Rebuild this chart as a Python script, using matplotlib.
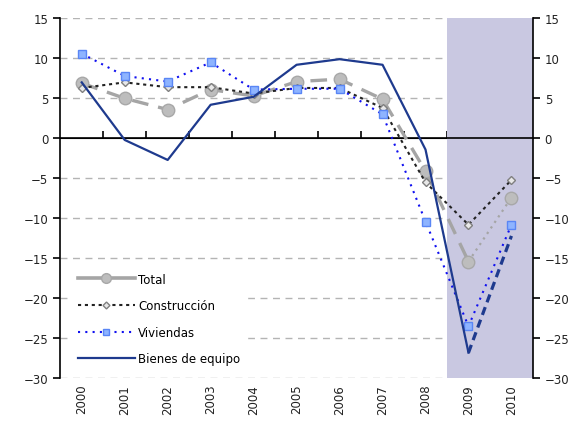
import matplotlib.pyplot as plt
from matplotlib.lines import Line2D

years = ['2000', '2001', '2002', '2003', '2004', '2005', '2006', '2007', '2008', '2009', '2010']
total = [6.9, 5.0, 3.6, 6.1, 5.3, 7.1, 7.4, 4.9, -4.1, -15.4, -7.4]
construccion = [6.3, 7.0, 6.4, 6.4, 5.6, 6.3, 6.3, 3.8, -5.5, -10.8, -5.2]
viviendas = [10.6, 7.8, 7.1, 9.5, 6.1, 6.2, 6.2, 3.0, -10.4, -23.5, -10.8]
bienes = [7.0, -0.2, -2.7, 4.2, 5.2, 9.2, 9.9, 9.2, -1.4, -26.8, -12.2]

plt.rcParams['font.family'] = ['DejaVu Sans']
fig = plt.figure(figsize=(5.85, 4.31), dpi=100)
ax = fig.add_axes([0.103, 0.12, 0.808, 0.835])

x = list(range(len(years)))
n = len(years)

ax.set_xlim(-0.5, n - 0.5)
ax.set_ylim(-30, 15)

# zona de previsión
ax.axvspan(8.5, 10.5, color='#C9C8E1', zorder=1, lw=0)

# rejilla
for v in range(-30, 16, 5):
    if v != 0:
        ax.axhline(v, color='#B4B4B4', lw=1, dashes=(5, 4), zorder=0.5)
ax.axhline(0, color='black', lw=1.2, zorder=2)

grey = '#A5A5A5'
navy = '#1E3A8E'

# Total
ax.plot(x[:10], total[:10], color=grey, lw=2.4, dashes=(5, 3), zorder=3)
ax.plot(x[9:], total[9:], color=grey, lw=1.6, dashes=(1, 2), zorder=3)
ax.plot(x, total, ls='none', marker='o', ms=9, mfc='#BDBDBD', mec='#A8A8A8', zorder=4)

# Construcción
ax.plot(x, construccion, color='#222222', lw=1.5, dashes=(1.5, 1.8), zorder=5)
ax.plot(x, construccion, ls='none', marker='D', ms=4, mfc='#E8E8E8', mec='#808080', zorder=5)

# Viviendas
ax.plot(x, viviendas, color='#1010F0', lw=1.5, dashes=(1, 2.5), zorder=6)
ax.plot(x, viviendas, ls='none', marker='s', ms=6, mfc='#8EB4FF', mec='#5A86F5', zorder=6)

# Bienes de equipo
ax.plot(x[:10], bienes[:10], color=navy, lw=1.6, zorder=7)
ax.plot(x[9:], bienes[9:], color=navy, lw=2.3, dashes=(2.6, 1.6), zorder=7)

# ejes
for s in ['top', 'bottom']:
    ax.spines[s].set_visible(False)
ax.spines['left'].set_linewidth(1.2)
ax.spines['right'].set_linewidth(1.2)
ax.set_yticks(range(-30, 16, 5))
ax.tick_params(axis='y', direction='out', length=5, width=1.2, labelsize=8.5,
               labelcolor='#222222', left=True, right=True, labelleft=True, labelright=True)
ax.set_xticks(x)
ax.set_xticklabels(years, rotation=90, fontsize=8.5, color='#222222')
ax.tick_params(axis='x', length=0, pad=4)

# marcas entre categorías sobre la línea de cero
sec = ax.secondary_xaxis(2 / 3)
sec.spines['bottom'].set_visible(False)
sec.set_xticks([i + 0.5 for i in range(n - 1)])
sec.set_xticklabels([])
sec.tick_params(axis='x', direction='out', length=5, width=1.2)

handles = [
    Line2D([], [], color=grey, lw=2.6, marker='o', ms=7, mfc='#BDBDBD', mec='#A8A8A8'),
    Line2D([], [], color='#222222', lw=1.5, dashes=(1.5, 1.8), marker='D', ms=3.5, mfc='#E8E8E8', mec='#808080'),
    Line2D([], [], color='#1010F0', lw=1.5, dashes=(1, 2.5), marker='s', ms=5, mfc='#8EB4FF', mec='#5A86F5'),
    Line2D([], [], color=navy, lw=1.6),
]
leg = ax.legend(handles, ['Total', 'Construcción', 'Viviendas', 'Bienes de equipo'],
                loc='lower left', bbox_to_anchor=(0.01, 0.0), frameon=True, fontsize=8.5,
                handlelength=4.8, handletextpad=0.3, labelspacing=1.15, borderpad=0.6,
                fancybox=False, edgecolor='white', framealpha=1)
leg.set_zorder(8)

fig.savefig('out.png', dpi=100)
